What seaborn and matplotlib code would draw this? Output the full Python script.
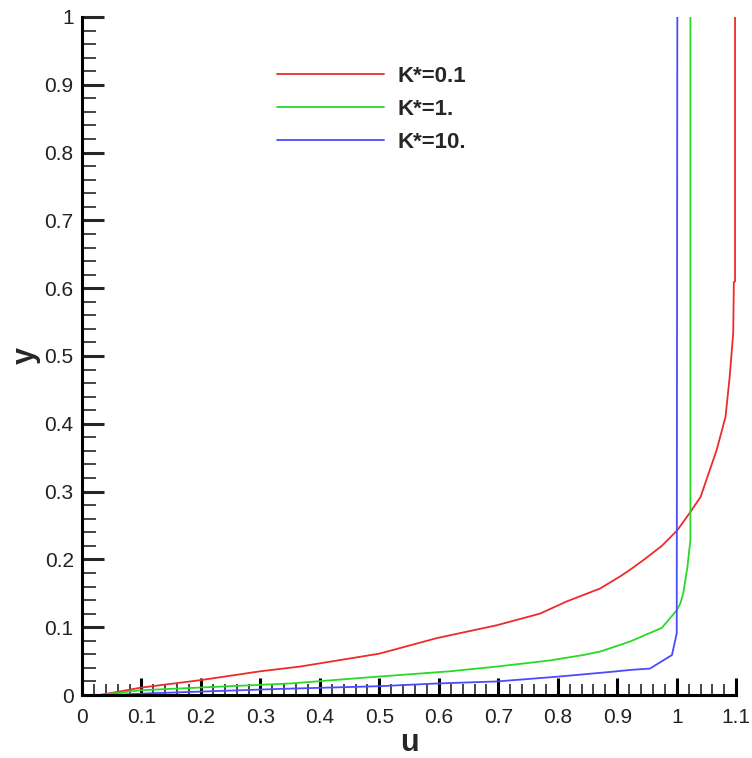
import numpy as np
import pandas as pd
import matplotlib
matplotlib.use("Agg")
import matplotlib.pyplot as plt
from matplotlib.ticker import MultipleLocator, FuncFormatter
import seaborn as sns

labels = ["K*=0.1", "K*=1.", "K*=10."]
colors = ["#ee2a2a", "#2ad82a", "#4a4aff"]

u_red = [0.03, 0.1, 0.2, 0.3, 0.367, 0.5, 0.597, 0.698, 0.77, 0.815, 0.871, 0.905, 0.922,
         0.944, 0.975, 1.001, 1.023, 1.040, 1.067, 1.082, 1.089, 1.095, 1.096, 1.098, 1.098]
y_red = [0.0, 0.011, 0.022, 0.035, 0.042, 0.061, 0.084, 0.103, 0.12, 0.138, 0.157, 0.175, 0.185,
         0.199, 0.22, 0.243, 0.27, 0.292, 0.361, 0.41, 0.469, 0.534, 0.609, 0.61, 1.0]

u_green = [0.03, 0.098, 0.198, 0.35, 0.496, 0.619, 0.698, 0.787, 0.843, 0.871, 0.922,
           0.975, 1.0, 1.006, 1.011, 1.018, 1.023, 1.023]
y_green = [0.0, 0.007, 0.011, 0.017, 0.027, 0.035, 0.042, 0.051, 0.059, 0.064, 0.079,
           0.099, 0.125, 0.135, 0.15, 0.189, 0.229, 1.0]

u_blue = [0.05, 0.114, 0.333, 0.5, 0.597, 0.698, 0.799, 0.888, 0.922, 0.955, 0.992, 1.0, 1.001]
y_blue = [0.0, 0.0025, 0.009, 0.013, 0.017, 0.020, 0.027, 0.034, 0.037, 0.039, 0.059, 0.091, 1.0]

frames = []
for lab, u, y in zip(labels, [u_red, u_green, u_blue], [y_red, y_green, y_blue]):
    frames.append(pd.DataFrame({"u": u, "y": y, "K": lab}))
df = pd.concat(frames, ignore_index=True)

sns.set_style("ticks")
plt.rcParams["font.family"] = ["Liberation Sans", "DejaVu Sans"]

fig = plt.figure(figsize=(7.52, 7.58), dpi=100)
ax = fig.add_axes([0.109, 0.0831, 0.870, 0.8945])

sns.lineplot(data=df, x="u", y="y", hue="K", palette=colors, sort=False,
             estimator=None, units="K", lw=1.3, ax=ax)

ax.set_xlim(0, 1.1)
ax.set_ylim(0, 1)
ax.xaxis.set_major_locator(MultipleLocator(0.1))
ax.xaxis.set_minor_locator(MultipleLocator(0.02))
ax.yaxis.set_major_locator(MultipleLocator(0.1))
ax.yaxis.set_minor_locator(MultipleLocator(0.02))

def fmt(v, pos):
    s = f"{v:.1f}"
    if s.endswith(".0"):
        s = s[:-2]
    return s

ax.xaxis.set_major_formatter(FuncFormatter(fmt))
ax.yaxis.set_major_formatter(FuncFormatter(fmt))

for s in ["top", "right"]:
    ax.spines[s].set_visible(False)
for s in ["left", "bottom"]:
    ax.spines[s].set_linewidth(2.2)
    ax.spines[s].set_color("black")

ax.tick_params(axis="x", which="major", direction="in", length=12, width=2.2, labelsize=15, pad=9, colors="black")
ax.tick_params(axis="x", which="minor", direction="in", length=8, width=1.2)
ax.tick_params(axis="y", which="major", direction="in", length=16, width=2.2, labelsize=15, pad=6)
ax.tick_params(axis="y", which="minor", direction="in", length=10, width=1.2)
for t in ax.get_xticklabels() + ax.get_yticklabels():
    t.set_color("#222222")

ax.set_xlabel("u", fontsize=22, fontweight="bold", labelpad=1)
ax.set_ylabel("y", fontsize=22, fontweight="bold", labelpad=3)

leg = ax.legend(loc="upper left", bbox_to_anchor=(0.268, 0.957), frameon=False,
                handlelength=4.8, handletextpad=0.6, labelspacing=0.53,
                prop={"weight": "bold", "size": 16})
for line in leg.get_lines():
    line.set_linewidth(1.3)

fig.savefig("out.png", dpi=100)
